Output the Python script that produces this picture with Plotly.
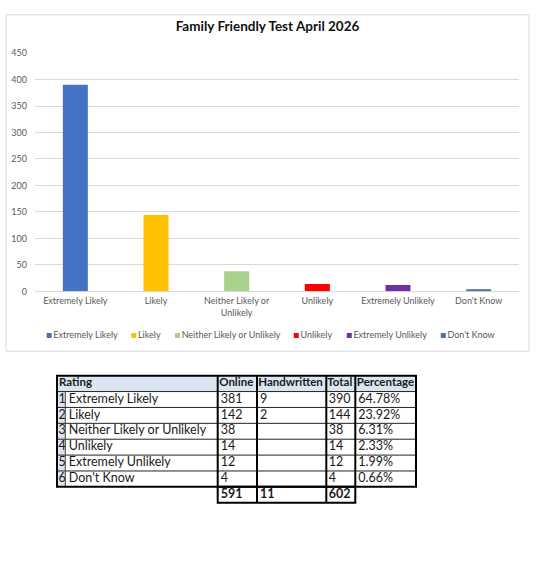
import plotly.graph_objects as go

W, H = 538, 566

# ---------------- data ----------------
categories = ["Extremely Likely", "Likely", "Neither Likely or Unlikely",
              "Unlikely", "Extremely Unlikely", "Don't Know"]
axis_labels = ["Extremely Likely", "Likely", "Neither Likely or<br>Unlikely",
               "Unlikely", "Extremely Unlikely", "Don't Know"]
online = [381, 142, 38, 14, 12, 4]
handwritten = [9, 2, None, None, None, None]
totals = [390, 144, 38, 14, 12, 4]
percentages = ["64.78%", "23.92%", "6.31%", "2.33%", "1.99%", "0.66%"]
online_sum = 591
handwritten_sum = 11
grand_total = 602
y_ticks = [0, 50, 100, 150, 200, 250, 300, 350, 400, 450]
table_header = ["Rating", "Online", "Handwritten", "Total", "Percentage"]
title_text = "Family Friendly Test April 2026"

# ---------------- styles / layout ----------------
bar_colors = ["#4472C4", "#FFC000", "#A9D18E", "#FF0000", "#7030A0", "#4A6FA5"]
FONT = "Lato"
AX_COLOR = "#595959"
GRID = "#D9D9D9"
AX_SIZE = 9

# legend marker centres (px) and table geometry (px)
legend_x = [49.2, 133.8, 177.5, 296.3, 349.3, 443.3]
legend_y = 336
col_edges = [57, 65.3, 217.7, 257, 326.3, 355.3, 416]
row_top = 377
row_h = 16.2
header_fill = "#DBE5F1"

fig = go.Figure()

# bars
fig.add_trace(go.Bar(
    x=categories, y=totals, marker=dict(color=bar_colors, line=dict(width=0)),
    width=0.31, showlegend=False, xaxis="x", yaxis="y"))

# legend built as a marker+text trace on a pixel axis
fig.add_trace(go.Scatter(
    x=legend_x, y=[legend_y] * len(categories), mode="markers+text",
    text=categories, textposition="middle right",
    marker=dict(symbol="square", size=5, color=bar_colors),
    textfont=dict(family=FONT, size=AX_SIZE, color=AX_COLOR),
    showlegend=False, xaxis="x2", yaxis="y2", cliponaxis=False))

# ---------------- table ----------------
n = len(categories)
header_bottom = row_top + row_h
rows_bottom = header_bottom + n * row_h
total_bottom = rows_bottom + row_h
row_centres = [header_bottom + (i + 0.5) * row_h for i in range(n)]
tfont = dict(family=FONT, size=12.5, color="#1A1A1A")
bfont = dict(family=FONT, size=11.5, color="#1A1A1A", weight="bold")

# header text
hdr_x = [col_edges[0] + 2, col_edges[2] + 1.5, col_edges[3] + 1.2,
         col_edges[4] + 1.0, col_edges[5] + 1.5]
fig.add_trace(go.Scatter(
    x=hdr_x, y=[row_top + row_h / 2] * len(table_header), mode="text",
    text=table_header, textposition="middle right", textfont=bfont,
    showlegend=False, xaxis="x2", yaxis="y2", cliponaxis=False))

columns = [
    ([str(i + 1) for i in range(n)], col_edges[0] + 1.5),
    (categories, col_edges[1] + 3.5),
    ([str(v) for v in online], col_edges[2] + 3),
    (["" if v is None else str(v) for v in handwritten], col_edges[3] + 3),
    ([str(v) for v in totals], col_edges[4] + 2.5),
    (percentages, col_edges[5] + 3),
]
for texts, x in columns:
    fig.add_trace(go.Scatter(
        x=[x] * n, y=row_centres, mode="text", text=texts,
        textposition="middle right", textfont=tfont,
        showlegend=False, xaxis="x2", yaxis="y2", cliponaxis=False))

# totals row
fig.add_trace(go.Scatter(
    x=[col_edges[2] + 3, col_edges[3] + 3, col_edges[4] + 2.5],
    y=[rows_bottom + row_h / 2] * 3, mode="text",
    text=[str(online_sum), str(handwritten_sum), str(grand_total)],
    textposition="middle right",
    textfont=dict(family=FONT, size=12.5, color="#1A1A1A", weight="bold"),
    showlegend=False, xaxis="x2", yaxis="y2", cliponaxis=False))

shapes = []
# chart frame
shapes.append(dict(type="rect", xref="paper", yref="paper",
                   x0=6 / W, x1=529 / W, y0=1 - 352 / H, y1=1 - 9 / H,
                   line=dict(color=GRID, width=1), layer="below"))
# fills
shapes.append(dict(type="rect", xref="x2", yref="y2", x0=col_edges[0], x1=col_edges[-1],
                   y0=row_top, y1=header_bottom, fillcolor=header_fill,
                   line=dict(width=0), layer="below"))
shapes.append(dict(type="rect", xref="x2", yref="y2", x0=col_edges[0], x1=col_edges[1],
                   y0=header_bottom, y1=rows_bottom, fillcolor=header_fill,
                   line=dict(width=0), layer="below"))
# thin horizontal lines
for i in range(n):
    yy = header_bottom + i * row_h
    shapes.append(dict(type="line", xref="x2", yref="y2", x0=col_edges[0], x1=col_edges[-1],
                       y0=yy, y1=yy, line=dict(color="#222222", width=1)))
# thin vertical between number and rating
shapes.append(dict(type="line", xref="x2", yref="y2", x0=col_edges[1], x1=col_edges[1],
                   y0=header_bottom, y1=rows_bottom, line=dict(color="#444444", width=1)))
# thick verticals
for xx in col_edges[2:-1]:
    shapes.append(dict(type="line", xref="x2", yref="y2", x0=xx, x1=xx,
                       y0=row_top, y1=rows_bottom, line=dict(color="#000000", width=2)))
# outer border
shapes.append(dict(type="rect", xref="x2", yref="y2", x0=col_edges[0], x1=col_edges[-1],
                   y0=row_top, y1=rows_bottom, line=dict(color="#000000", width=2)))
# totals box
shapes.append(dict(type="rect", xref="x2", yref="y2", x0=col_edges[2], x1=col_edges[5],
                   y0=rows_bottom, y1=total_bottom, line=dict(color="#000000", width=2)))
for xx in col_edges[3:5]:
    shapes.append(dict(type="line", xref="x2", yref="y2", x0=xx, x1=xx,
                       y0=rows_bottom, y1=total_bottom, line=dict(color="#000000", width=2)))

fig.update_layout(
    width=W, height=H,
    margin=dict(l=0, r=0, t=0, b=0),
    paper_bgcolor="white", plot_bgcolor="rgba(0,0,0,0)",
    font=dict(family=FONT, color=AX_COLOR),
    title=dict(text=title_text, x=267.5 / W, xanchor="center",
               y=1 - 26 / H, yanchor="middle",
               font=dict(family=FONT, size=13.5, color="#111111", weight="bold")),
    bargap=0.69,
    xaxis=dict(domain=[35 / W, 519 / W], anchor="y", type="category",
               tickmode="array", tickvals=categories, ticktext=axis_labels,
               showgrid=False, showline=False, ticks="", zeroline=False,
               tickfont=dict(family=FONT, size=AX_SIZE, color=AX_COLOR),
               ticklabelstandoff=3, fixedrange=True),
    yaxis=dict(domain=[1 - 291 / H, 1 - 48 / H], anchor="x", range=[0, 450],
               tickmode="array", tickvals=y_ticks,
               showgrid=True, gridcolor=GRID, gridwidth=1,
               zeroline=True, zerolinecolor=GRID, zerolinewidth=1,
               showline=False, ticks="",
               tickfont=dict(family=FONT, size=AX_SIZE, color=AX_COLOR),
               ticklabelstandoff=7, fixedrange=True),
    xaxis2=dict(domain=[0, 1], anchor="y2", range=[0, W], visible=False, fixedrange=True),
    yaxis2=dict(domain=[0, 1], anchor="x2", range=[H, 0], visible=False, fixedrange=True),
    shapes=shapes,
    showlegend=False,
)

fig.write_html("out.html", config={"displayModeBar": False},
               post_script="document.body.style.margin='0';document.body.style.padding='0';")
